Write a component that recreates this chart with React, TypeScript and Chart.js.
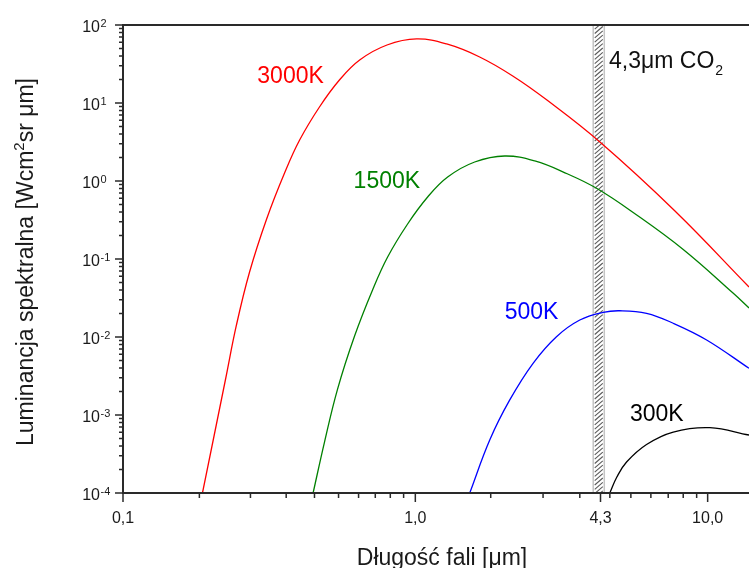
import React, { useEffect, useRef } from 'react';
import { Chart, registerables } from 'chart.js';
Chart.register(...registerables);

const FONT = '"Liberation Sans", Arial, Helvetica, sans-serif';

// ---- data ----
const x3000 = [0.187, 0.224, 0.2444, 0.271, 0.31, 0.357, 0.402, 0.47, 0.55, 0.645, 0.8, 1.01, 1.28, 1.66, 2.154, 2.82, 4.28, 7.73, 13.85];
const y3000 = [1e-4, 2.81e-3, 0.01426, 0.0681, 0.326, 1.266, 3.35, 8.89, 19.7, 35.6, 55.4, 66.2, 57.1, 38.9, 22.2, 10.9, 3.16, 0.4125, 0.0438];

const x1500 = [0.447, 0.489, 0.542, 0.6197, 0.714, 0.804, 0.941, 1.102, 1.29, 1.596, 2.022, 2.563, 3.323, 4.168, 5.562, 8.25, 12.24, 13.85];
const y1500 = [1e-4, 4.5e-4, 2.15e-3, 0.0103, 0.0401, 0.106, 0.281, 0.623, 1.125, 1.752, 2.092, 1.805, 1.229, 0.806, 0.3945, 0.1324, 0.0363, 0.02354];

const x500 = [1.535, 1.797, 2.104, 2.528, 3.04, 3.653, 4.39, 5.009, 6.18, 7.625, 9.92, 13.85];
const y500 = [1e-4, 4.78e-4, 1.56e-3, 4.6e-3, 0.01009, 0.0165, 0.0207, 0.0217, 0.0201, 0.015, 9.16e-3, 3.97e-3];

const x300 = [4.628, 4.891, 5.28, 6.18, 7.625, 10.18, 13.85];
const y300 = [1e-4, 1.603e-4, 2.497e-4, 4.19e-4, 6.05e-4, 6.87e-4, 5.54e-4];

const seriesNames = ['3000K', '1500K', '500K', '300K'];
const seriesColors = ['#ff0000', '#008000', '#0000ff', '#000000'];
// label anchor (left, baseline) in data coordinates
const labelX = [0.288, 0.615, 2.022, 5.42];
const labelY = [18.2, 0.813, 0.01686, 8.45e-4];

const X_MIN = 0.1;
const X_MAX = 13.85;
const Y_MIN = 1e-4;
const Y_MAX = 100;

const xMajorTicks = [0.1, 1, 4.3, 10];
const xMajorLabels = ['0,1', '1,0', '4,3', '10,0'];
const xMinorTicks = [0.1825, 0.2729, 0.3616, 0.4519, 0.5462, 0.6395, 0.7295, 0.8211, 0.9119,
  1.811, 2.735, 3.653, 4.628, 5.462, 6.394, 7.33, 8.25, 9.17];

const yExponents = [-4, -3, -2, -1, 0, 1, 2];
const yMinorMultipliers = [2, 3, 4, 5, 6, 7, 8, 9];

const co2Band = [4.06, 4.43];
const co2LabelX = 4.6;
const co2LabelY = 28.4;

const xTitle = 'Długość fali [μm]';
const yTitleParts = ['Luminancja spektralna [Wcm', '2', 'sr μm]'];

const framePlugin = {
  id: 'framePlugin',
  beforeDatasetsDraw(chart: any) {
    const { ctx, chartArea: a, scales } = chart;
    const xs = scales.x;
    const x1 = xs.getPixelForValue(co2Band[0]);
    const x2 = xs.getPixelForValue(co2Band[1]);
    ctx.save();
    ctx.beginPath();
    ctx.rect(x1, a.top, x2 - x1, a.bottom - a.top);
    ctx.clip();
    ctx.strokeStyle = '#5a5a5a';
    ctx.lineWidth = 1.1;
    for (let yy = a.top - 20; yy < a.bottom + 20; yy += 4.3) {
      ctx.beginPath();
      ctx.moveTo(x1 + 1.5, yy + 7);
      ctx.lineTo(x2 - 1.5, yy);
      ctx.stroke();
    }
    ctx.restore();
    ctx.save();
    ctx.strokeStyle = '#c4c4c4';
    ctx.lineWidth = 1.5;
    ctx.beginPath();
    ctx.moveTo(x1, a.top); ctx.lineTo(x1, a.bottom);
    ctx.moveTo(x2, a.top); ctx.lineTo(x2, a.bottom);
    ctx.stroke();
    ctx.restore();
  },
  afterDatasetsDraw(chart: any) {
    const { ctx, chartArea: a, scales } = chart;
    const xs = scales.x;
    const ys = scales.y;
    ctx.save();
    // axis lines
    ctx.strokeStyle = '#2a2a2a';
    ctx.lineWidth = 2;
    ctx.beginPath();
    ctx.moveTo(a.left, a.top); ctx.lineTo(a.right, a.top);
    ctx.moveTo(a.left, a.top - 1); ctx.lineTo(a.left, a.bottom + 1);
    ctx.moveTo(a.left - 1, a.bottom); ctx.lineTo(a.right, a.bottom);
    ctx.stroke();

    // y ticks
    ctx.lineWidth = 1.5;
    ctx.beginPath();
    yExponents.forEach((e) => {
      const py = ys.getPixelForValue(Math.pow(10, e));
      ctx.moveTo(a.left - 8, py); ctx.lineTo(a.left + 1, py);
      if (e < 2) {
        yMinorMultipliers.forEach((m) => {
          const pm = ys.getPixelForValue(m * Math.pow(10, e));
          ctx.moveTo(a.left - 4, pm); ctx.lineTo(a.left + 1, pm);
        });
      }
    });
    // x ticks
    xMajorTicks.forEach((v) => {
      const px = xs.getPixelForValue(v);
      ctx.moveTo(px, a.bottom - 1); ctx.lineTo(px, a.bottom + 9);
    });
    xMinorTicks.forEach((v) => {
      const px = xs.getPixelForValue(v);
      ctx.moveTo(px, a.bottom - 1); ctx.lineTo(px, a.bottom + 5);
    });
    ctx.stroke();

    // y tick labels
    ctx.fillStyle = '#1a1a1a';
    ctx.textBaseline = 'alphabetic';
    yExponents.forEach((e) => {
      const py = ys.getPixelForValue(Math.pow(10, e));
      ctx.font = `16px ${FONT}`;
      ctx.textAlign = 'right';
      ctx.fillText('10', 100, py + 6.5);
      ctx.font = `11px ${FONT}`;
      ctx.textAlign = 'left';
      ctx.fillText(String(e), 100.5, py + 1.5);
    });

    // x tick labels
    ctx.font = `16px ${FONT}`;
    ctx.textAlign = 'center';
    xMajorTicks.forEach((v, i) => {
      const px = xs.getPixelForValue(v);
      ctx.fillText(xMajorLabels[i], px, a.bottom + 30);
    });

    // x title
    ctx.font = `23px ${FONT}`;
    ctx.textAlign = 'center';
    ctx.fillText(xTitle, 442, 565);

    // y title (rotated, with superscript)
    ctx.save();
    ctx.translate(33, 262);
    ctx.rotate(-Math.PI / 2);
    ctx.font = `23px ${FONT}`;
    const w0 = ctx.measureText(yTitleParts[0]).width;
    const w2 = ctx.measureText(yTitleParts[2]).width;
    ctx.font = `15px ${FONT}`;
    const w1 = ctx.measureText(yTitleParts[1]).width;
    const total = w0 + w1 + w2;
    let cx = -total / 2;
    ctx.textAlign = 'left';
    ctx.font = `23px ${FONT}`;
    ctx.fillText(yTitleParts[0], cx, 0);
    cx += w0;
    ctx.font = `15px ${FONT}`;
    ctx.fillText(yTitleParts[1], cx, -9);
    cx += w1;
    ctx.font = `23px ${FONT}`;
    ctx.fillText(yTitleParts[2], cx, 0);
    ctx.restore();

    // series labels
    ctx.font = `23px ${FONT}`;
    ctx.textAlign = 'left';
    seriesNames.forEach((n, i) => {
      ctx.fillStyle = seriesColors[i];
      ctx.fillText(n, xs.getPixelForValue(labelX[i]), ys.getPixelForValue(labelY[i]));
    });

    // CO2 label
    ctx.fillStyle = '#111';
    const lx = xs.getPixelForValue(co2LabelX);
    const ly = ys.getPixelForValue(co2LabelY);
    ctx.font = `23px ${FONT}`;
    const main = '4,3μm CO';
    ctx.fillText(main, lx, ly);
    const mw = ctx.measureText(main).width;
    ctx.font = `14px ${FONT}`;
    ctx.fillText('2', lx + mw + 1, ly + 7);
    ctx.restore();
  },
};

function toPoints(xs: number[], ys: number[]) {
  return xs.map((x, i) => ({ x, y: ys[i] }));
}

export default function App() {
  const ref = useRef<HTMLCanvasElement>(null);
  useEffect(() => {
    const canvas = ref.current;
    if (!canvas) return;
    const xsArr = [x3000, x1500, x500, x300];
    const ysArr = [y3000, y1500, y500, y300];
    const chart = new Chart(canvas, {
      type: 'line',
      data: {
        datasets: seriesNames.map((n, i) => ({
          label: n,
          data: toPoints(xsArr[i], ysArr[i]),
          borderColor: seriesColors[i],
          backgroundColor: seriesColors[i],
          borderWidth: 1.3,
          pointRadius: 0,
          fill: false,
          tension: 0.4,
        })),
      },
      options: {
        animation: false,
        responsive: false,
        devicePixelRatio: 1,
        layout: { padding: { left: 123, top: 25, right: 0, bottom: 75 } },
        plugins: { legend: { display: false }, tooltip: { enabled: false } },
        scales: {
          x: { type: 'logarithmic', min: X_MIN, max: X_MAX, display: false },
          y: { type: 'logarithmic', min: Y_MIN, max: Y_MAX, display: false },
        },
      },
      plugins: [framePlugin],
    } as any);
    return () => chart.destroy();
  }, []);
  return (
    <div style={{ position: 'absolute', left: 0, top: 0, width: 749, height: 568, background: '#fff' }}>
      <canvas ref={ref} width={749} height={568} style={{ display: 'block' }} />
    </div>
  );
}
